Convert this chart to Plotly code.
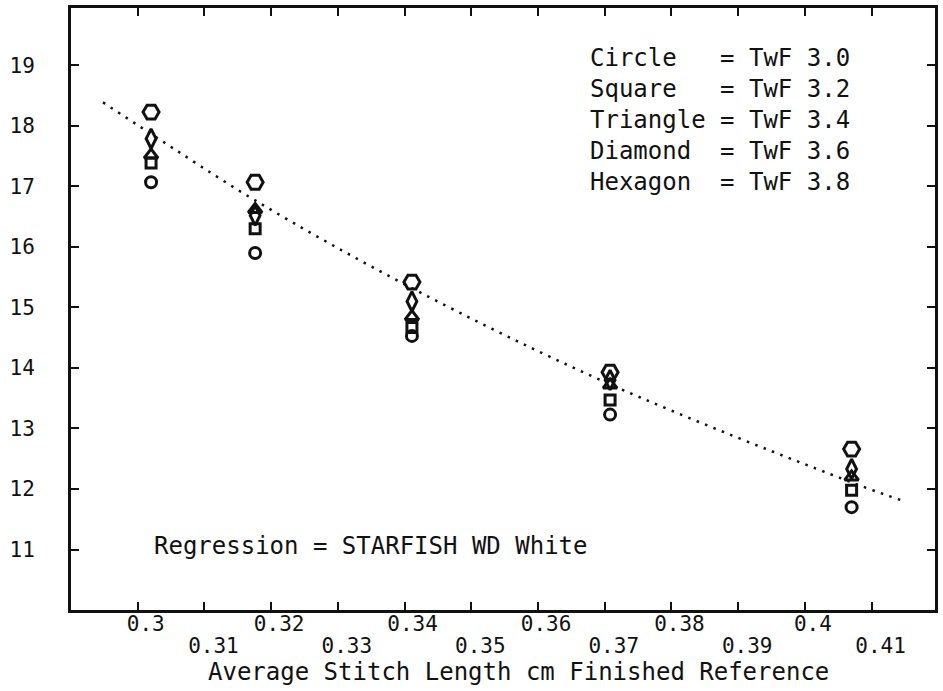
import plotly.graph_objects as go

# Average stitch length (cm, finished) for each sample group
stitch_length = [0.3020, 0.3176, 0.3411, 0.3708, 0.4070]

# Courses per cm for each twist factor
circle_twf30 = [17.07, 15.90, 14.53, 13.23, 11.70]
square_twf32 = [17.39, 16.30, 14.67, 13.47, 11.98]
triangle_twf34 = [17.52, 16.62, 14.85, 13.72, 12.20]
diamond_twf36 = [17.79, 16.52, 15.10, 13.80, 12.33]
hexagon_twf38 = [18.23, 17.07, 15.42, 13.93, 12.66]

# Regression curve (STARFISH WD White)
regression_x = [0.2948, 0.3020, 0.3176, 0.3411, 0.3708, 0.4070, 0.4148]
regression_y = [18.39, 17.87, 16.77, 15.32, 13.73, 12.11, 11.80]

# Key text
shape_names = ["Circle", "Square", "Triangle", "Diamond", "Hexagon"]
twf_values = ["3.0", "3.2", "3.4", "3.6", "3.8"]
key_rows_y = [19.13, 18.61, 18.10, 17.59, 17.07]

# Axis ticks
x_upper_vals = [0.30, 0.32, 0.34, 0.36, 0.38, 0.40]
x_upper_text = ["0.3", "0.32", "0.34", "0.36", "0.38", "0.4"]
x_lower_vals = [0.31, 0.33, 0.35, 0.37, 0.39, 0.41]
x_lower_text = ["0.31", "0.33", "0.35", "0.37", "0.39", "0.41"]
y_tick_vals = [11, 12, 13, 14, 15, 16, 17, 18, 19]
y_tick_text = ["11", "12", "13", "14", "15", "16", "17", "18", "19"]

X_RANGE = [0.29, 0.4195]
Y_RANGE = [10.0, 19.95]
FONT = "DejaVu Sans Mono"
INK = "#111111"

fig = go.Figure()

fig.add_trace(go.Scatter(
    x=regression_x, y=regression_y, mode="lines",
    line=dict(color=INK, width=2.5, dash="2.5px,6.5px", shape="spline"),
    hoverinfo="skip",
))

series = [
    (circle_twf30, "circle-open", 11),
    (square_twf32, "square-open", 10),
    (triangle_twf34, "triangle-up-open", 12),
    (diamond_twf36, "diamond-tall-open", 14),
    (hexagon_twf38, "hexagon2-open", 16),
]
for (vals, sym, size), name, tw in zip(series, shape_names, twf_values):
    fig.add_trace(go.Scatter(
        x=stitch_length, y=vals, mode="markers", name=f"TwF {tw}",
        marker=dict(symbol=sym, size=size, color=INK,
                    line=dict(color=INK, width=3)),
    ))

# Invisible trace so the second (staggered-label) x axis is drawn
fig.add_trace(go.Scatter(
    x=[x_lower_vals[0]], y=[y_tick_vals[0]], xaxis="x2", mode="markers",
    marker=dict(opacity=0), hoverinfo="skip", showlegend=False,
))

axis_common = dict(
    showgrid=False, zeroline=False, showline=True, linewidth=3,
    linecolor=INK, ticks="inside", ticklen=8, tickwidth=2, tickcolor=INK,
    mirror="ticks", tickfont=dict(family=FONT, size=21, color=INK),
)

fig.update_layout(
    width=943, height=691,
    margin=dict(l=71, r=5, t=5, b=81),
    plot_bgcolor="white", paper_bgcolor="white",
    showlegend=False,
    font=dict(family=FONT, color=INK),
    xaxis=dict(
        range=X_RANGE,
        tickvals=x_upper_vals + x_lower_vals,
        ticktext=x_upper_text + [""] * len(x_lower_vals),
        ticklabelstandoff=-7, ticklabelshift=8,
        **axis_common,
    ),
    xaxis2=dict(
        range=X_RANGE, overlaying="x", anchor="y", side="bottom",
        tickvals=x_lower_vals, ticktext=x_lower_text,
        showgrid=False, zeroline=False, showline=False, ticks="",
        ticklabelstandoff=21, ticklabelshift=9,
        tickfont=dict(family=FONT, size=21, color=INK),
    ),
    yaxis=dict(
        range=Y_RANGE, tickvals=y_tick_vals, ticktext=y_tick_text,
        ticklabelstandoff=29,
        **axis_common,
    ),
)

# Key of marker shapes
for name, tw, yv in zip(shape_names, twf_values, key_rows_y):
    label = name.ljust(9).replace(" ", "\u00a0") + "=\u00a0TwF\u00a0" + tw
    fig.add_annotation(
        x=0.3675, y=yv, xref="x", yref="y", text=label, showarrow=False,
        xanchor="left", yanchor="middle",
        font=dict(family=FONT, size=24, color=INK),
    )

fig.add_annotation(
    x=0.3022, y=11.05, xref="x", yref="y",
    text="Regression\u00a0=\u00a0STARFISH\u00a0WD\u00a0White",
    showarrow=False, xanchor="left", yanchor="middle",
    font=dict(family=FONT, size=24, color=INK),
)

fig.add_annotation(
    x=0.357, y=-0.1025, xref="x", yref="paper",
    text="Average\u00a0Stitch\u00a0Length\u00a0cm\u00a0Finished\u00a0Reference",
    showarrow=False, xanchor="center", yanchor="middle",
    font=dict(family=FONT, size=24, color=INK),
)

fig.write_html("out.html")
